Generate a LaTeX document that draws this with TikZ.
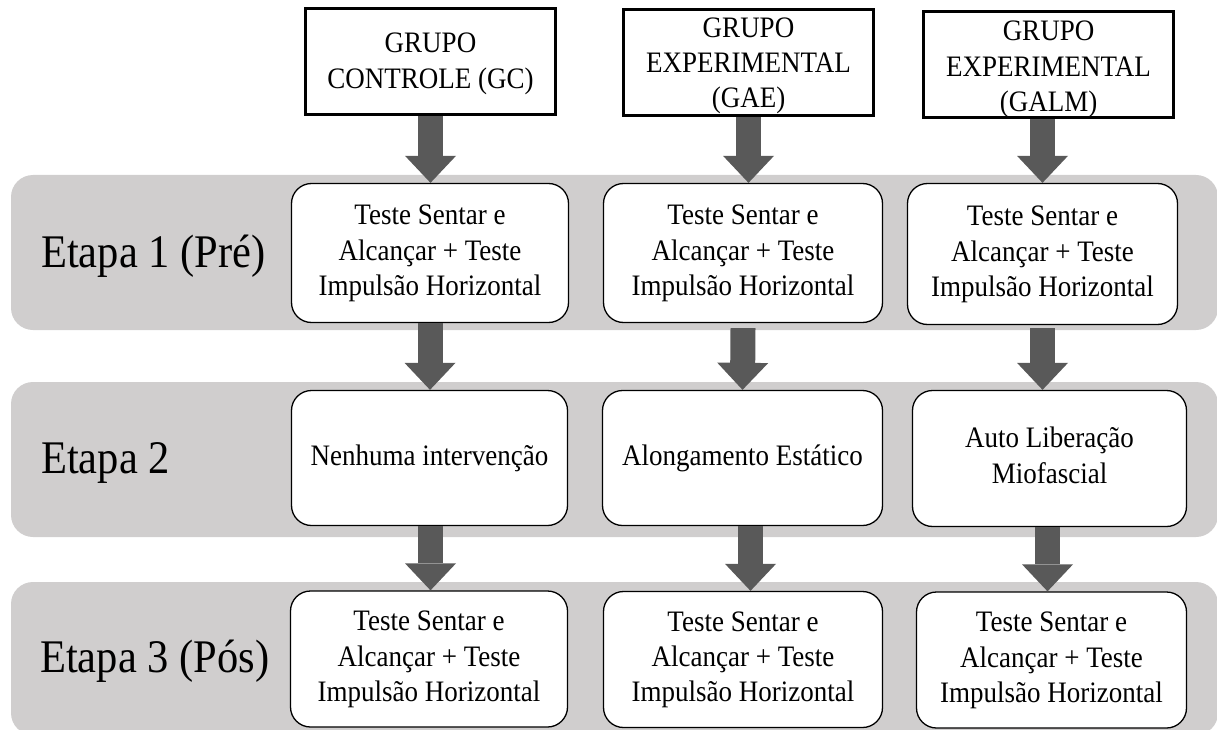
\documentclass[tikz,border=0pt]{standalone}
\usepackage{fontspec}
\usepackage{graphicx}
\setmainfont{Liberation Serif}
\usetikzlibrary{arrows.meta}
\definecolor{bandgray}{HTML}{D0CECE}
\definecolor{arrgray}{HTML}{595959}
\newcommand{\stx}[1]{\scalebox{1}[1.1]{\begin{tabular}{@{}c@{}}#1\end{tabular}}}
\begin{document}
\begin{tikzpicture}[x=1pt,y=-1pt,
  bandbox/.style={fill=bandgray, rounded corners=22pt},
  grpbox/.style={draw=black, line width=3pt, fill=white, minimum width=250pt, minimum height=106pt, inner sep=0pt},
  grptext/.style={font=\fontsize{27}{32}\selectfont, inner sep=0pt},
  stepbox/.style={draw=black, line width=1.3pt, fill=white, rounded corners=20pt, font=\fontsize{27}{32}\selectfont, inner sep=0pt},
  etapa/.style={anchor=base west, font=\fontsize{42.5}{50}\selectfont, inner sep=0pt},
  blockarrow/.style={draw=arrgray, line width=25pt, -{Triangle[width=51pt,length=27pt,line width=0pt]}}
]
\useasboundingbox (0,0) rectangle (1217,730);
\clip (0,0) rectangle (1217,730);

% bands
\path[bandbox] (11,175) rectangle (1218,330);
\path[bandbox] (11,382) rectangle (1218,537);
\path[bandbox] (11,582) rectangle (1218,735);

% stage labels
\node[etapa] (e1) at (41,267) {\scalebox{1}[1.1]{Etapa 1 (Pré)}};
\node[etapa] (e2) at (41,473) {\scalebox{1}[1.1]{Etapa 2}};
\node[etapa] (e3) at (40,672) {\scalebox{1}[1.1]{Etapa 3 (Pós)}};

% group boxes
\node[grpbox] (gc) at (430.5,61.5) {};
\node[grptext] at ([yshift=-2pt]gc.center) {\stx{GRUPO\\CONTROLE (GC)}};
\node[grpbox] (gae) at (748.5,63) {};
\node[grptext] at ([yshift=-2.5pt]gae.center) {\stx{GRUPO\\EXPERIMENTAL\\(GAE)}};
\node[grpbox] (galm) at (1048.5,65) {};
\node[grptext] at ([yshift=-4pt]galm.center) {\stx{GRUPO\\EXPERIMENTAL\\(GALM)}};

% row 1
\node[stepbox, minimum width=277pt, minimum height=139pt] (r1c1) at (430,253) {\stx{Teste Sentar e\\Alcançar + Teste\\Impulsão Horizontal}};
\node[stepbox, minimum width=279pt, minimum height=139pt] (r1c2) at (743,253) {\stx{Teste Sentar e\\Alcançar + Teste\\Impulsão Horizontal}};
\node[stepbox, minimum width=270pt, minimum height=141pt] (r1c3) at (1042.5,254) {\stx{Teste Sentar e\\Alcançar + Teste\\Impulsão Horizontal}};

% row 2
\node[stepbox, minimum width=276pt, minimum height=135pt] (r2c1) at (429.5,458) {\stx{Nenhuma intervenção}};
\node[stepbox, minimum width=280pt, minimum height=135pt] (r2c2) at (742.5,458) {\stx{Alongamento Estático}};
\node[stepbox, minimum width=274pt, minimum height=136pt] (r2c3) at (1049.5,458.5) {\stx{Auto Liberação\\Miofascial}};

% row 3
\node[stepbox, minimum width=277pt, minimum height=136pt] (r3c1) at (429,659) {\stx{Teste Sentar e\\Alcançar + Teste\\Impulsão Horizontal}};
\node[stepbox, minimum width=279pt, minimum height=136pt] (r3c2) at (743,659.5) {\stx{Teste Sentar e\\Alcançar + Teste\\Impulsão Horizontal}};
\node[stepbox, minimum width=270pt, minimum height=136pt] (r3c3) at (1051.5,660) {\stx{Teste Sentar e\\Alcançar + Teste\\Impulsão Horizontal}};

% arrows
\draw[blockarrow] (gc.south) -- (gc.south |- r1c1.north);
\draw[blockarrow] (gae.south) -- (gae.south |- r1c2.north);
\draw[blockarrow] (r1c3.north |- galm.south) -- (r1c3.north);

\draw[blockarrow] (r1c1.south) -- (r1c1.south |- r2c1.north);
\draw[blockarrow] ([yshift=-5pt]r1c2.south) -- (r2c2.north);
\draw[blockarrow] ([yshift=-3pt]r1c3.south) -- (r1c3.south |- r2c3.north);

\draw[blockarrow] ([xshift=1pt]r2c1.south) -- ([xshift=1pt]r2c1.south |- r3c1.north);
\draw[blockarrow] ([xshift=8pt]r2c2.south) -- ([xshift=8pt]r2c2.south |- r3c2.north);
\draw[blockarrow] ([xshift=-2pt]r2c3.south) -- ([xshift=-2pt]r2c3.south |- r3c3.north);
\end{tikzpicture}
\end{document}
